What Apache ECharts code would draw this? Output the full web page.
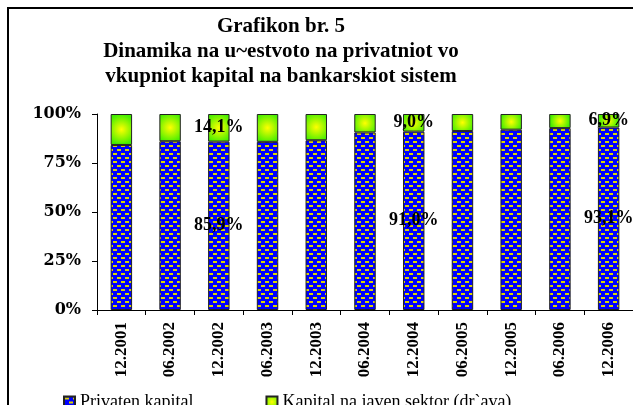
<!DOCTYPE html>
<html>
<head>
<meta charset="utf-8">
<script src="https://cdn.jsdelivr.net/npm/echarts@6/dist/echarts.min.js"></script>
<style>
  html, body { margin: 0; padding: 0; background: #fff; }
  #chart { width: 633px; height: 405px; }
</style>
</head>
<body>
<div id="chart"></div>
<script>
// podatoci
const categories = ['12.2001', '06.2002', '12.2002', '06.2003', '12.2003', '06.2004', '12.2004', '06.2005', '12.2005', '06.2006', '12.2006']
const privatenKapital = [84.2, 86.1, 85.9, 85.8, 86.6, 90.6, 91.0, 91.3, 92.0, 92.8, 93.1]
const javenKapital = [15.8, 13.9, 14.1, 14.2, 13.4, 9.4, 9.0, 8.7, 8.0, 7.2, 6.9]
const yTicks = [0, 25, 50, 75, 100]
const labeledBars = [2, 6, 10] // koloni so vrednost

const serif = '"DejaVu Serif", "Liberation Serif", serif'
const times = '"Liberation Serif", "DejaVu Serif", serif'

// plava so zolti crticki
const makePattern = () => {
  const c = document.createElement('canvas')
  c.width = 8
  c.height = 8
  const ctx = c.getContext('2d')
  ctx.fillStyle = '#0000ff'
  ctx.fillRect(0, 0, 8, 8)
  ctx.fillStyle = '#dcd400'
  ctx.fillRect(1, 1, 4, 2)
  ctx.fillRect(5, 5, 3, 2)
  ctx.fillRect(0, 5, 1, 2)
  return c
}
const pattern = { image: makePattern(), repeat: 'repeat' }

const greenFill = new echarts.graphic.RadialGradient(0.5, 0.5, 0.7, [
  { offset: 0, color: '#ffff00' },
  { offset: 1, color: '#44ee00' },
])

const fmt = (v) => v.toFixed(1).replace('.', ',') + '%'

const labelStyle = {
  show: true,
  position: 'inside',
  color: '#000',
  fontFamily: times,
  fontWeight: 'bold',
  fontSize: 18,
  formatter: (p) => fmt(p.value),
}

const toData = (arr) =>
  arr.map((v, i) => (labeledBars.includes(i) ? { value: v, label: labelStyle } : v))

const chart = echarts.init(document.getElementById('chart'))

chart.setOption({
  backgroundColor: '#fff',
  animation: false,
  graphic: [
    {
      type: 'rect',
      shape: { x: 8, y: 8, width: 660, height: 420 },
      style: { fill: 'none', stroke: '#000', lineWidth: 2 },
      silent: true,
    },
    {
      type: 'text',
      x: 281,
      y: 14,
      silent: true,
      style: {
        text: 'Grafikon br. 5\nDinamika na u~estvoto na privatniot vo\nvkupniot kapital na bankarskiot sistem',
        align: 'center',
        verticalAlign: 'top',
        fontFamily: times,
        fontWeight: 'bold',
        fontSize: 21,
        lineHeight: 25,
        fill: '#000',
      },
    },
  ],
  legend: {
    left: 58,
    top: 388,
    itemWidth: 11,
    itemHeight: 11,
    itemGap: 72,
    textStyle: { fontFamily: times, fontSize: 18, color: '#000' },
    data: [
      { name: 'Privaten kapital', icon: 'rect' },
      { name: 'Kapital na javen sektor (dr`ava)', icon: 'rect' },
    ],
  },
  grid: {
    left: 97,
    top: 114,
    width: 545,
    height: 196,
  },
  xAxis: {
    type: 'category',
    data: categories,
    axisLine: { lineStyle: { color: '#000', width: 1 } },
    axisTick: { show: true, length: 5, lineStyle: { color: '#000' } },
    axisLabel: {
      rotate: 90,
      interval: 0,
      margin: 12,
      color: '#000',
      fontFamily: times,
      fontWeight: 'bold',
      fontSize: 17,
    },
  },
  yAxis: {
    type: 'value',
    min: yTicks[0],
    max: yTicks[yTicks.length - 1],
    interval: 25,
    axisLine: { show: true, lineStyle: { color: '#000', width: 1 } },
    axisTick: { show: true, length: 5, lineStyle: { color: '#000' } },
    splitLine: { show: false },
    axisLabel: {
      margin: 16,
      color: '#000',
      fontFamily: serif,
      fontWeight: 'bold',
      fontSize: 16,
      formatter: '{value}%',
    },
  },
  series: [
    {
      name: 'Privaten kapital',
      type: 'bar',
      stack: 'total',
      barWidth: '44%',
      data: toData(privatenKapital),
      itemStyle: { color: pattern, borderColor: '#222', borderWidth: 1 },
    },
    {
      name: 'Kapital na javen sektor (dr`ava)',
      type: 'bar',
      stack: 'total',
      barWidth: '44%',
      data: toData(javenKapital),
      itemStyle: { color: greenFill, borderColor: '#222', borderWidth: 1 },
    },
  ],
})
</script>
</body>
</html>
